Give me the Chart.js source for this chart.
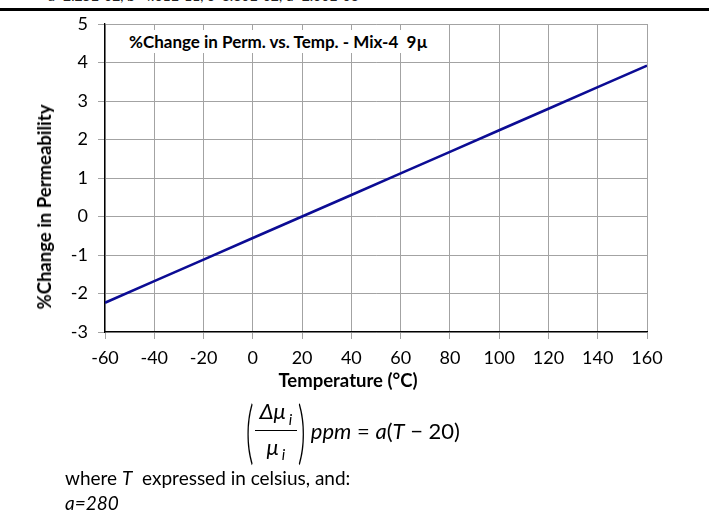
<!DOCTYPE html>
<html lang="en">
<head>
    <meta charset="UTF-8">
    <title>%Change in Perm. vs. Temp. - Mix-4 9µ</title>
    <style>
        body {
            margin: 0;
            padding: 0;
            width: 709px;
            height: 513px;
            background: #fff;
            position: relative;
            overflow: hidden;
            font-family: Lato, "Liberation Sans", sans-serif;
            color: #000;
        }

        #coeffs {
            position: absolute;
            left: 48px;
            top: -13px;
            font-size: 14px;
            white-space: nowrap;
            color: #222;
        }

        #rule {
            position: absolute;
            left: 0;
            top: 8px;
            width: 709px;
            height: 3px;
            background: #000;
        }

        #chart {
            position: absolute;
            left: 0;
            top: 0;
        }

        .plot-title {
            position: absolute;
            left: 121px;
            top: 30px;
            height: 23px;
            line-height: 23px;
            padding: 0 8px;
            background: #fff;
            font-size: 17px;
            font-weight: bold;
            white-space: nowrap;
        }

        .y-title {
            position: absolute;
            left: 44px;
            top: 207px;
            transform: translate(-50%, -50%) rotate(-90deg);
            font-size: 18.5px;
            font-weight: bold;
            white-space: nowrap;
        }

        .x-title {
            position: absolute;
            left: 348px;
            top: 380px;
            transform: translate(-50%, -50%);
            font-size: 18.5px;
            font-weight: bold;
            white-space: nowrap;
        }

        #formula {
            position: absolute;
            left: 247px;
            top: 397px;
            height: 66px;
            display: flex;
            align-items: center;
            font-size: 22px;
            white-space: nowrap;
        }

        .paren {
            font-size: 68px;
            font-weight: 300;
            display: inline-block;
            transform: scaleX(0.45);
            line-height: 66px;
            margin: 0 -6px;
        }

        .frac {
            display: inline-flex;
            flex-direction: column;
            align-items: center;
            margin: 0 2px;
        }

        .frac .num {
            padding: 0 5px 2px 5px;
            border-bottom: 1px solid #000;
            font-style: italic;
        }

        .frac .den {
            padding-top: 2px;
            font-style: italic;
        }

        .frac sub {
            font-size: 15px;
            margin-left: 3px;
        }

        .rhs {
            margin-left: 6px;
        }

        .note {
            position: absolute;
            left: 65px;
            font-size: 19px;
            white-space: nowrap;
        }
    </style>
</head>
<body>
    <div id="coeffs">a=2.25E-02, b=4.61E-11, c=8.80E-02, d=2.00E-03</div>
    <div id="rule"></div>

    <canvas id="chart" width="709" height="400"></canvas>
    <div class="plot-title">%Change in Perm. vs. Temp. - Mix-4&nbsp;&nbsp;9µ</div>
    <div class="y-title">%Change in Permeability</div>
    <div class="x-title">Temperature (°C)</div>

    <div id="formula">
        <span class="paren">(</span>
        <span class="frac"><span class="num">Δμ<sub>i</sub></span><span class="den">μ<sub>i</sub></span></span>
        <span class="paren">)</span>
        <span class="rhs"><i>ppm</i>&nbsp;= <i>a</i>(<i>T</i> &minus; 20)</span>
    </div>
    <div class="note" style="top: 466px;">where <i>T</i>&nbsp; expressed in celsius, and:</div>
    <div class="note" style="top: 491px;"><i>a=280</i></div>

    <script src="https://cdn.jsdelivr.net/npm/chart.js"></script>
    <script>
        // Temperature (°C) and % change in permeability along the curve
        const temps = [-60, -40, -20, 0, 20, 40, 60, 80, 100, 120, 140, 160];
        const permChange = [-2.24, -1.68, -1.12, -0.56, 0, 0.56, 1.12, 1.68, 2.24, 2.80, 3.36, 3.92];

        // Axis ranges and tick steps
        const xRange = [-60, 160];
        const xStep = 20;
        const yRange = [-3, 5];
        const yStep = 1;

        const gridColor = '#a3a3a3';
        const tickFont = { family: 'Lato, "Liberation Sans", sans-serif', size: 18 };

        const points = temps.map((t, i) => ({ x: t, y: permChange[i] }));

        new Chart(document.getElementById('chart').getContext('2d'), {
            type: 'scatter',
            data: {
                datasets: [{
                    data: points,
                    showLine: true,
                    borderColor: '#0c0c94',
                    borderWidth: 2.6,
                    pointRadius: 0,
                    pointHoverRadius: 0,
                    tension: 0
                }]
            },
            options: {
                responsive: false,
                animation: false,
                devicePixelRatio: 1,
                layout: {
                    padding: { left: 0, top: 24, right: 62, bottom: 7 }
                },
                plugins: {
                    legend: { display: false },
                    tooltip: { enabled: false }
                },
                scales: {
                    x: {
                        type: 'linear',
                        min: xRange[0],
                        max: xRange[1],
                        ticks: {
                            stepSize: xStep,
                            color: '#000',
                            font: tickFont,
                            padding: 8,
                            maxRotation: 0
                        },
                        grid: {
                            color: gridColor,
                            lineWidth: 1,
                            tickLength: 7
                        },
                        border: { color: '#000', width: 1.3 },
                        afterFit: scale => { scale.height = 61; }
                    },
                    y: {
                        type: 'linear',
                        min: yRange[0],
                        max: yRange[1],
                        ticks: {
                            stepSize: yStep,
                            color: '#000',
                            font: tickFont,
                            padding: 10
                        },
                        grid: {
                            color: gridColor,
                            lineWidth: 1,
                            tickLength: 7
                        },
                        border: { color: '#000', width: 1.3 },
                        afterFit: scale => { scale.width = 105; }
                    }
                }
            }
        });
    </script>
</body>
</html>
